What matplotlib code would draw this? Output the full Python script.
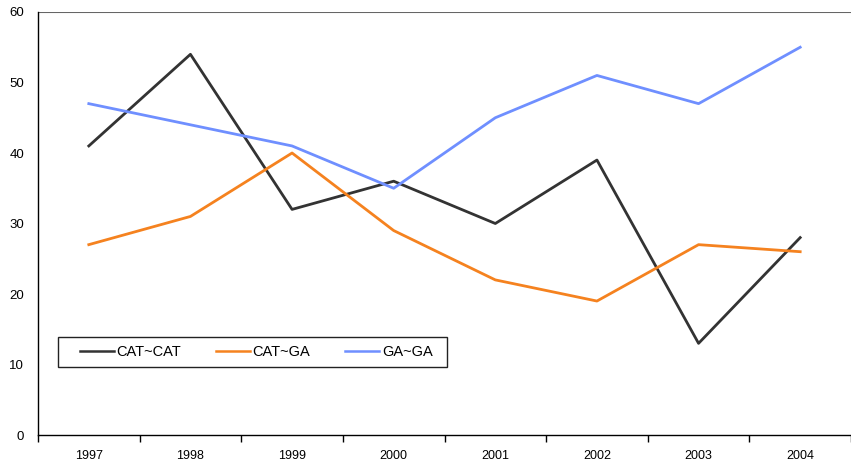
import numpy as np
import matplotlib
matplotlib.use('Agg')
import matplotlib.pyplot as plt
from matplotlib.ticker import FixedLocator
from matplotlib.patches import Rectangle

years = ['1997', '1998', '1999', '2000', '2001', '2002', '2003', '2004']
cat_cat = [41, 54, 32, 36, 30, 39, 13, 28]
cat_ga = [27, 31, 40, 29, 22, 19, 27, 26]
ga_ga = [47, 44, 41, 35, 45, 51, 47, 55]

plt.rcParams['font.family'] = ['Liberation Sans', 'DejaVu Sans']

fig = plt.figure(figsize=(8.51, 4.61), dpi=100)
ax = fig.add_axes([38 / 851, 26 / 461, 813 / 851, 423 / 461])

x = np.arange(len(years))
ax.plot(x, cat_cat, color='#333333', lw=2, label='CAT~CAT')
ax.plot(x, cat_ga, color='#f5821f', lw=2, label='CAT~GA')
ax.plot(x, ga_ga, color='#6f8fff', lw=2, label='GA~GA')

ax.set_xlim(-0.5, len(years) - 0.5)
ax.set_ylim(0, 60)
ax.set_yticks(range(0, 61, 10))
ax.axhline(60, color='#666666', lw=1.5)

ax.set_xticks(x)
ax.set_xticklabels(years)
ax.xaxis.set_minor_locator(FixedLocator(np.arange(-0.5, len(years), 1)))
ax.tick_params(axis='x', which='major', length=0, pad=11, labelsize=9)
ax.tick_params(axis='x', which='minor', length=5, width=1, direction='out')
ax.tick_params(axis='y', length=0, pad=10, labelsize=9.5)

for s in ['top', 'right']:
    ax.spines[s].set_visible(False)
ax.spines['left'].set_linewidth(1)
ax.spines['bottom'].set_linewidth(1)

# legend box drawn by hand (wide left padding, thin height)
ax.add_patch(Rectangle((20 / 813, 68 / 423), 389 / 813, 30 / 423, transform=ax.transAxes,
                       facecolor='white', edgecolor='#222222', lw=1, zorder=5))
leg = ax.legend(loc='center left', bbox_to_anchor=(42 / 813, 83 / 423), ncol=3,
                frameon=False, fontsize=10.5, handlelength=2.3, handletextpad=0.2,
                columnspacing=2.4, borderpad=0, borderaxespad=0)
leg.set_zorder(6)
for h in leg.get_lines():
    h.set_linewidth(1.8)

fig.savefig('out.png', dpi=100)
